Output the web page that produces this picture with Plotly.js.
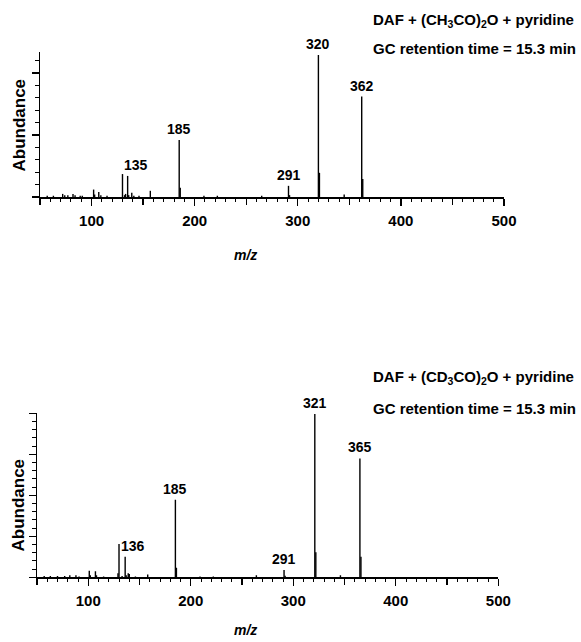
<!DOCTYPE html>
<html>
<head>
<meta charset="utf-8">
<script src="https://cdn.plot.ly/plotly-3.0.1.min.js"></script>
<style>html,body{margin:0;padding:0;background:#fff;}#chart{width:581px;height:642px;}</style>
</head>
<body>
<div id="chart"></div>
<script>
// ---- Data ----
// Top spectrum: DAF + (CH3CO)2O + pyridine
var mzTop = [57, 63, 72, 74, 77, 82, 84, 89, 91, 102, 103, 107, 109, 115, 130, 132, 133, 135, 136, 139, 141, 146, 157, 185, 186, 209, 222, 265, 291, 292, 320, 321, 345, 362, 363];
var abTop = [0.02, 0.02, 0.05, 0.03, 0.03, 0.05, 0.03, 0.02, 0.02, 0.12, 0.04, 0.08, 0.03, 0.02, 0.37, 0.03, 0.05, 0.34, 0.03, 0.07, 0.02, 0.02, 0.10, 0.92, 0.15, 0.02, 0.02, 0.02, 0.18, 0.03, 2.29, 0.39, 0.04, 1.62, 0.29];
var labelsTop = ["135", "185", "291", "320", "362"];
var labelMzTop = [135, 185, 291, 320, 362];

// Bottom spectrum: DAF + (CD3CO)2O + pyridine
var mzBot = [57, 63, 70, 77, 82, 88, 91, 101, 102, 107, 108, 115, 129, 130, 133, 136, 137, 139, 140, 146, 158, 185, 186, 209, 222, 264, 291, 292, 321, 322, 346, 365, 366];
var abBot = [0.03, 0.03, 0.03, 0.03, 0.05, 0.05, 0.02, 0.16, 0.05, 0.15, 0.05, 0.02, 0.10, 0.81, 0.03, 0.50, 0.05, 0.10, 0.08, 0.02, 0.07, 1.89, 0.23, 0.02, 0.02, 0.05, 0.18, 0.04, 3.98, 0.61, 0.05, 2.90, 0.50];
var labelsBot = ["136", "185", "291", "321", "365"];
var labelMzBot = [136, 185, 291, 321, 365];

var xLabelVals = [100, 200, 300, 400, 500];
var xHalfVals = [50, 150, 250, 350, 450];

var W = 581, H = 642;
function px(x) { return x / W; }
function py(y) { return 1 - y / H; }

function sticks(mz, ab) {
  var xs = [], ys = [];
  for (var i = 0; i < mz.length; i++) {
    xs.push(mz[i], mz[i], null);
    ys.push(0, ab[i], null);
  }
  return { x: xs, y: ys };
}

var sTop = sticks(mzTop, abTop);
var sBot = sticks(mzBot, abBot);

var traces = [
  { x: sTop.x, y: sTop.y, xaxis: 'x', yaxis: 'y', mode: 'lines', type: 'scatter',
    line: { color: '#000', width: 1.4 }, hoverinfo: 'skip', showlegend: false, connectgaps: false },
  { x: sBot.x, y: sBot.y, xaxis: 'x2', yaxis: 'y2', mode: 'lines', type: 'scatter',
    line: { color: '#000', width: 1.4 }, hoverinfo: 'skip', showlegend: false, connectgaps: false }
];

var FONT = 'Liberation Sans, Arial, Helvetica, sans-serif';

function xAxis(domain, anchor) {
  return {
    domain: domain, anchor: anchor, range: [50, 500], showgrid: false, zeroline: false,
    showline: true, linecolor: '#000', linewidth: 1.5,
    tickmode: 'array', tickvals: xLabelVals,
    ticks: 'outside', ticklen: 7, tickwidth: 1.3, tickcolor: '#000',
    ticklabelstandoff: 2,
    minor: { dtick: 10, tick0: 50, ticks: 'outside', ticklen: 3.5, tickwidth: 1, tickcolor: '#000', showgrid: false },
    tickfont: { family: FONT, size: 15, color: '#000', weight: 'bold' },
    fixedrange: true
  };
}
function xHalfAxis(domain, anchor, over) {
  return {
    domain: domain, anchor: anchor, overlaying: over, range: [50, 500], showgrid: false, zeroline: false,
    showline: false, tickmode: 'array', tickvals: xHalfVals, showticklabels: false,
    ticks: 'outside', ticklen: 7, tickwidth: 1.3, tickcolor: '#000', side: 'bottom',
    fixedrange: true
  };
}
function yAxis(domain, anchor, top) {
  return {
    domain: domain, anchor: anchor, range: [0, top], showgrid: false, zeroline: false,
    showline: true, linecolor: '#000', linewidth: 1.5,
    tickmode: 'linear', tick0: 0, dtick: 1, showticklabels: false,
    ticks: 'outside', ticklen: 7, tickwidth: 1.2, tickcolor: '#000',
    minor: { dtick: 0.2, tick0: 0, ticks: 'outside', ticklen: 4, tickwidth: 1, tickcolor: '#000', showgrid: false },
    fixedrange: true
  };
}

// invisible helper traces so the half-step tick axes get drawn
traces.push(
  { x: [50], y: [0], xaxis: 'x3', yaxis: 'y', mode: 'markers', marker: { opacity: 0 }, hoverinfo: 'skip', showlegend: false },
  { x: [50], y: [0], xaxis: 'x4', yaxis: 'y2', mode: 'markers', marker: { opacity: 0 }, hoverinfo: 'skip', showlegend: false }
);

var annotations = [];
function addLabels(labels, lmz, mz, ab, xr, yr) {
  for (var i = 0; i < labels.length; i++) {
    var k = mz.indexOf(lmz[i]);
    var first = (i === 0);
    annotations.push({
      xref: xr, yref: yr, x: lmz[i], y: ab[k], text: labels[i], showarrow: false,
      xanchor: first ? 'left' : 'center', yanchor: 'bottom', xshift: first ? -6 : 0, yshift: 1,
      font: { family: FONT, size: 14, color: '#000', weight: 'bold' }
    });
  }
}
addLabels(labelsTop, labelMzTop, mzTop, abTop, 'x', 'y');
addLabels(labelsBot, labelMzBot, mzBot, abBot, 'x2', 'y2');

var tf = { family: FONT, size: 15, color: '#000', weight: 'bold' };
annotations.push(
  { xref: 'paper', yref: 'paper', x: px(371), y: py(20), xanchor: 'left', yanchor: 'middle', showarrow: false,
    text: 'DAF + (CH<sub>3</sub>CO)<sub>2</sub>O + pyridine', font: tf },
  { xref: 'paper', yref: 'paper', x: px(371), y: py(48), xanchor: 'left', yanchor: 'middle', showarrow: false,
    text: 'GC retention time = 15.3 min', font: tf },
  { xref: 'paper', yref: 'paper', x: px(371), y: py(378), xanchor: 'left', yanchor: 'middle', showarrow: false,
    text: 'DAF + (CD<sub>3</sub>CO)<sub>2</sub>O + pyridine', font: tf },
  { xref: 'paper', yref: 'paper', x: px(371), y: py(408), xanchor: 'left', yanchor: 'middle', showarrow: false,
    text: 'GC retention time = 15.3 min', font: tf },
  { xref: 'paper', yref: 'paper', x: px(19.5), y: py(125), xanchor: 'center', yanchor: 'middle', showarrow: false,
    textangle: -90, text: 'Abundance', font: { family: FONT, size: 17, color: '#000', weight: 'bold' } },
  { xref: 'paper', yref: 'paper', x: px(17.5), y: py(505), xanchor: 'center', yanchor: 'middle', showarrow: false,
    textangle: -90, text: 'Abundance', font: { family: FONT, size: 17, color: '#000', weight: 'bold' } },
  { xref: 'paper', yref: 'paper', x: px(245), y: py(255), xanchor: 'center', yanchor: 'middle', showarrow: false,
    text: 'm/z', font: { family: FONT, size: 14, color: '#000', weight: 'bold', style: 'italic' } },
  { xref: 'paper', yref: 'paper', x: px(245), y: py(630), xanchor: 'center', yanchor: 'middle', showarrow: false,
    text: 'm/z', font: { family: FONT, size: 14, color: '#000', weight: 'bold', style: 'italic' } }
);

var layout = {
  width: W, height: H,
  margin: { l: 0, r: 0, t: 0, b: 0 },
  paper_bgcolor: '#fff', plot_bgcolor: '#fff',
  showlegend: false,
  xaxis: xAxis([px(40), px(504)], 'y'),
  yaxis: yAxis([py(197), py(52)], 'x', 145 / 62),
  xaxis2: xAxis([px(37), px(498.3)], 'y2'),
  yaxis2: yAxis([py(577.3), py(413.3)], 'x2', 4.0),
  xaxis3: xHalfAxis([px(40), px(504)], 'y', 'x'),
  xaxis4: xHalfAxis([px(37), px(498.3)], 'y2', 'x2'),
  annotations: annotations
};

Plotly.newPlot('chart', traces, layout, { staticPlot: true, displayModeBar: false });
</script>
</body>
</html>
